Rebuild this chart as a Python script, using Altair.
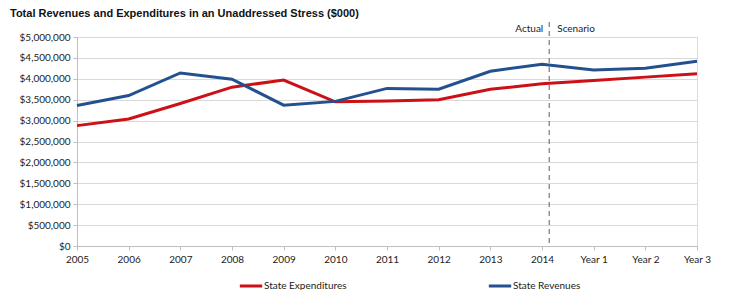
import altair as alt
import pandas as pd

labels = ["2005", "2006", "2007", "2008", "2009", "2010", "2011", "2012",
          "2013", "2014", "Year 1", "Year 2", "Year 3"]
expenditures = [2880000, 3040000, 3410000, 3800000, 3970000, 3450000, 3470000,
                3500000, 3750000, 3880000, 3960000, 4040000, 4120000]
revenues = [3360000, 3600000, 4140000, 3990000, 3370000, 3460000, 3770000,
            3750000, 4180000, 4350000, 4210000, 4250000, 4420000]
series_names = ["State Expenditures", "State Revenues"]
divider_pos = [9.14]
divider_text = ["Actual", "Scenario"]
title_text = "Total Revenues and Expenditures in an Unaddressed Stress ($000)"

rows = []
for i, lab in enumerate(labels):
    rows.append({"idx": i, "label": lab, "series": series_names[0], "value": expenditures[i]})
    rows.append({"idx": i, "label": lab, "series": series_names[1], "value": revenues[i]})
df = pd.DataFrame(rows)

label_js = "[" + ",".join("'%s'" % l for l in labels) + "]"
FONT = "Lato"

x_enc = alt.X("idx:Q",
              scale=alt.Scale(domain=[0, len(labels) - 1], nice=False, zero=False),
              axis=alt.Axis(values=list(range(len(labels))),
                            labelExpr=label_js + "[datum.value]",
                            title=None, grid=False, labelFont=FONT, labelFontSize=10,
                            labelColor="#222", domainColor="#BFBFBF", tickColor="#BFBFBF",
                            tickSize=4, labelPadding=4, labelFlush=False))

y_enc = alt.Y("value:Q",
              scale=alt.Scale(domain=[0, 5000000], nice=False),
              axis=alt.Axis(values=list(range(0, 5000001, 500000)),
                            format="$,.0f", title=None, gridColor="#D9D9D9",
                            labelFont=FONT, labelFontSize=10, labelColor="#222",
                            domainColor="#BFBFBF", tickColor="#BFBFBF", tickSize=4,
                            labelPadding=3))

lines = alt.Chart(df).mark_line(strokeWidth=3).encode(
    x=x_enc, y=y_enc,
    color=alt.Color("series:N",
                    scale=alt.Scale(domain=series_names, range=["#CC1016", "#23508F"]),
                    legend=alt.Legend(title=None, orient="none", direction="horizontal",
                                      legendX=161, legendY=236, symbolType="stroke",
                                      symbolStrokeWidth=3, symbolSize=500,
                                      columnPadding=135, labelFont=FONT, labelFontSize=10,
                                      labelColor="#222", labelOffset=0)),
    detail="series:N",
)

div_df = pd.DataFrame({"pos": divider_pos})
rule = alt.Chart(div_df).mark_rule(color="#777", strokeDash=[5, 4], strokeWidth=1.2).encode(
    x=alt.X("pos:Q"), y=alt.value(-15), y2=alt.value(209))

txt_df = pd.DataFrame({"pos": divider_pos * 2, "t": divider_text})
t_left = alt.Chart(txt_df.iloc[[0]]).mark_text(align="right", dx=-6, dy=-8, font=FONT,
                                               fontSize=10, color="#222").encode(
    x="pos:Q", y=alt.value(0), text="t:N")
t_right = alt.Chart(txt_df.iloc[[1]]).mark_text(align="left", dx=8, dy=-8, font=FONT,
                                                fontSize=10, color="#222").encode(
    x="pos:Q", y=alt.value(0), text="t:N")

title_df = pd.DataFrame({"t": [title_text]})
title = alt.Chart(title_df).mark_text(align="left", baseline="middle", font="Liberation Sans",
                                      fontSize=11, fontWeight="bold", color="#111").encode(
    x=alt.value(-67), y=alt.value(-23), text="t:N")

chart = alt.layer(lines, rule, t_left, t_right, title).properties(
    width=620, height=209,
    autosize=alt.AutoSizeParams(type="none"),
    padding={"left": 69, "top": 29, "right": 35, "bottom": 46},
).configure_view(stroke=None).configure(background="white")

chart.save("out.html", embed_options={"renderer": "svg", "actions": False})
